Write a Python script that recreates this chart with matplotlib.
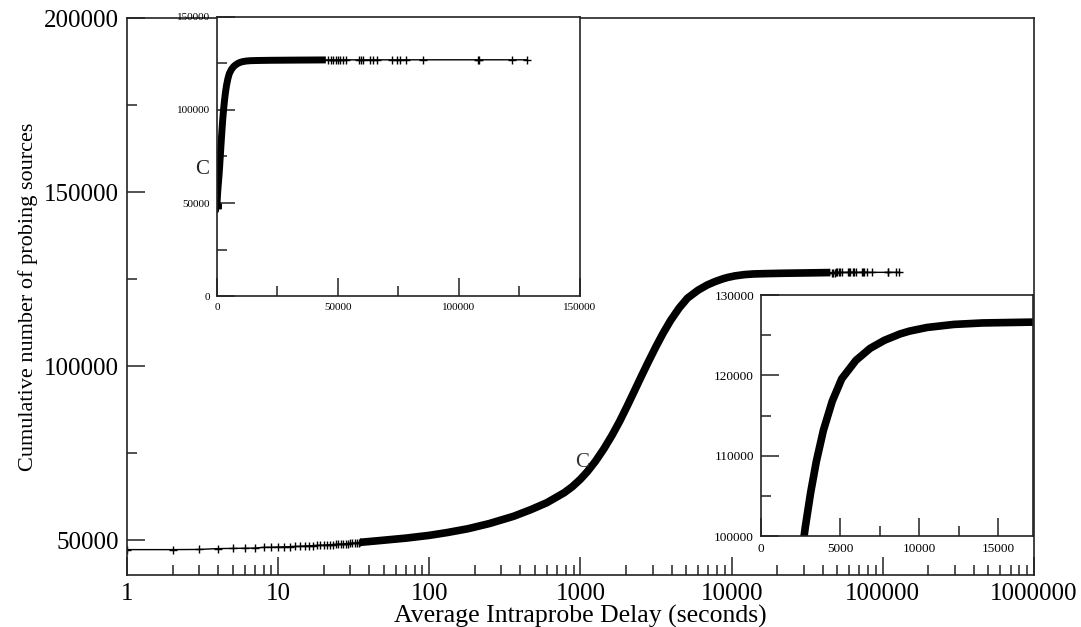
import matplotlib
matplotlib.use("Agg")
import matplotlib.pyplot as plt

plt.rcParams['font.family'] = ['Liberation Serif', 'DejaVu Serif']

# Retardo medio (s) y número acumulado de fuentes
# tramo inicial: retardos enteros, puntos sueltos
head_delay = [1, 2, 3, 4, 5, 6, 7, 8, 9, 10, 11, 12, 13, 14, 15, 16, 17, 18,
              19, 20, 21, 22, 23, 24, 25, 26, 27, 28, 29, 30, 31, 32, 33, 34, 35]
head_count = [47300, 47300, 47350, 47600, 47650, 47700, 47750, 47950, 48000,
              48050, 48100, 48150, 48200, 48250, 48350, 48400, 48450, 48500,
              48550, 48600, 48650, 48700, 48750, 48800, 48850, 48900, 48950,
              49000, 49050, 49100, 49150, 49200, 49250, 49300, 49400]

# tramo denso
body_delay = [35, 47, 70, 100, 131, 180, 250, 362, 470, 600, 780, 881, 1000,
              1110, 1257, 1430, 1622, 1820, 2037, 2260, 2495, 2800, 3138,
              3500, 3945, 4500, 5100, 6000, 6900, 7800, 8800, 9400, 10500,
              12200, 14000, 17000, 22000, 32000, 45000]
body_count = [49400, 49900, 50600, 51400, 52200, 53300, 54800, 56900, 58800,
              60800, 63650, 65350, 67550, 69710, 72710, 76310, 80260, 84260,
              88560, 92660, 96610, 101110, 105410, 109310, 113160, 116760,
              119560, 121860, 123360, 124360, 125160, 125510, 125960, 126340,
              126520, 126620, 126720, 126820, 126920]

# cola: puntos sueltos
tail_delay = [46000, 47000, 48000, 49000, 50000, 51000, 52000, 53500, 58700,
              59500, 60400, 63200, 64500, 66200, 72300, 74500, 75500, 78300,
              85200, 107800, 108300, 121800, 128000]
tail_count = [126925, 126930, 126935, 126940, 126945, 126950, 126955, 126960,
              126962, 126964, 126966, 126968, 126970, 126972, 126974, 126976,
              126978, 126980, 126982, 126984, 126986, 126988, 126990]

# punto marcado "C"
c_delay = 1030
c_count = 72400

x_ticks = [1, 10, 100, 1000, 10000, 100000, 1000000]
x_tick_labels = ["1", "10", "100", "1000", "10000", "100000", "1000000"]
y_ticks = [50000, 100000, 150000, 200000]
y_minor = [75000, 125000, 175000]

in1_ticks = [0, 50000, 100000, 150000]
in1_minor = [25000, 75000, 125000]
in2_xticks = [0, 5000, 10000, 15000]
in2_xminor = [7500, 12500]
in2_yticks = [100000, 110000, 120000, 130000]
in2_yminor = [105000, 115000, 125000]

all_delay = head_delay + body_delay + tail_delay
all_count = head_count + body_count + tail_count

fig = plt.figure(figsize=(10.81, 6.27), dpi=100)


def draw_curve(ax, lw_body):
    ax.plot(all_delay, all_count, color='black', lw=1.0)
    ax.plot(body_delay, body_count, color='black', lw=lw_body,
            solid_capstyle='butt', solid_joinstyle='round')
    ax.plot(head_delay, head_count, ls='none', marker='+', ms=5.5, mew=1.0,
            color='black')
    ax.plot(tail_delay, tail_count, ls='none', marker='+', ms=5.5, mew=1.0,
            color='black')


def style(ax, fs, pad):
    for s in ax.spines.values():
        s.set_linewidth(1.2)
        s.set_color('#222222')
    ax.tick_params(which='both', direction='in', top=False, right=False,
                   width=1.1, color='#222222', labelsize=fs, pad=pad)


# gráfica principal
ax = fig.add_axes([0.1175, 0.0829, 0.839, 0.888])
draw_curve(ax, 5.5)
ax.set_xscale('log')
ax.set_xlim(1, 1000000)
ax.set_ylim(40000, 200000)
ax.set_xticks(x_ticks)
ax.set_xticklabels(x_tick_labels)
ax.set_yticks(y_ticks)
ax.set_yticks(y_minor, minor=True)
style(ax, 18, 6)
ax.tick_params(which='major', length=13)
ax.tick_params(which='minor', length=7)
ax.set_xlabel("Average Intraprobe Delay (seconds)", fontsize=18.5, labelpad=0)
ax.set_ylabel("Cumulative number of probing sources", fontsize=16,
              labelpad=4)
ax.text(c_delay, c_count, "C", fontsize=15, color='#333333',
        ha='center', va='center')

# recuadro 1: escala lineal completa
ax1 = fig.add_axes([0.2007, 0.5279, 0.3358, 0.445])
draw_curve(ax1, 5)
ax1.set_xlim(0, 150000)
ax1.set_ylim(0, 150000)
ax1.set_xticks(in1_ticks)
ax1.set_xticks(in1_minor, minor=True)
ax1.set_yticks(in1_ticks)
ax1.set_yticks(in1_minor, minor=True)
style(ax1, 8, 5)
ax1.tick_params(which='major', length=13)
ax1.tick_params(which='minor', length=7)
ax1.text(-6300, c_count - 4400, "C", fontsize=15, color='#222222',
         ha='center', va='center', clip_on=False)

# recuadro 2: detalle de la subida
ax2 = fig.add_axes([0.704, 0.1451, 0.2516, 0.3844])
draw_curve(ax2, 5.5)
ax2.set_xlim(0, 17200)
ax2.set_ylim(100000, 130000)
ax2.set_xticks(in2_xticks)
ax2.set_xticks(in2_xminor, minor=True)
ax2.set_yticks(in2_yticks)
ax2.set_yticks(in2_yminor, minor=True)
style(ax2, 9.5, 5)
ax2.tick_params(which='major', length=13)
ax2.tick_params(which='minor', length=7)

fig.savefig("out.png", dpi=100)
